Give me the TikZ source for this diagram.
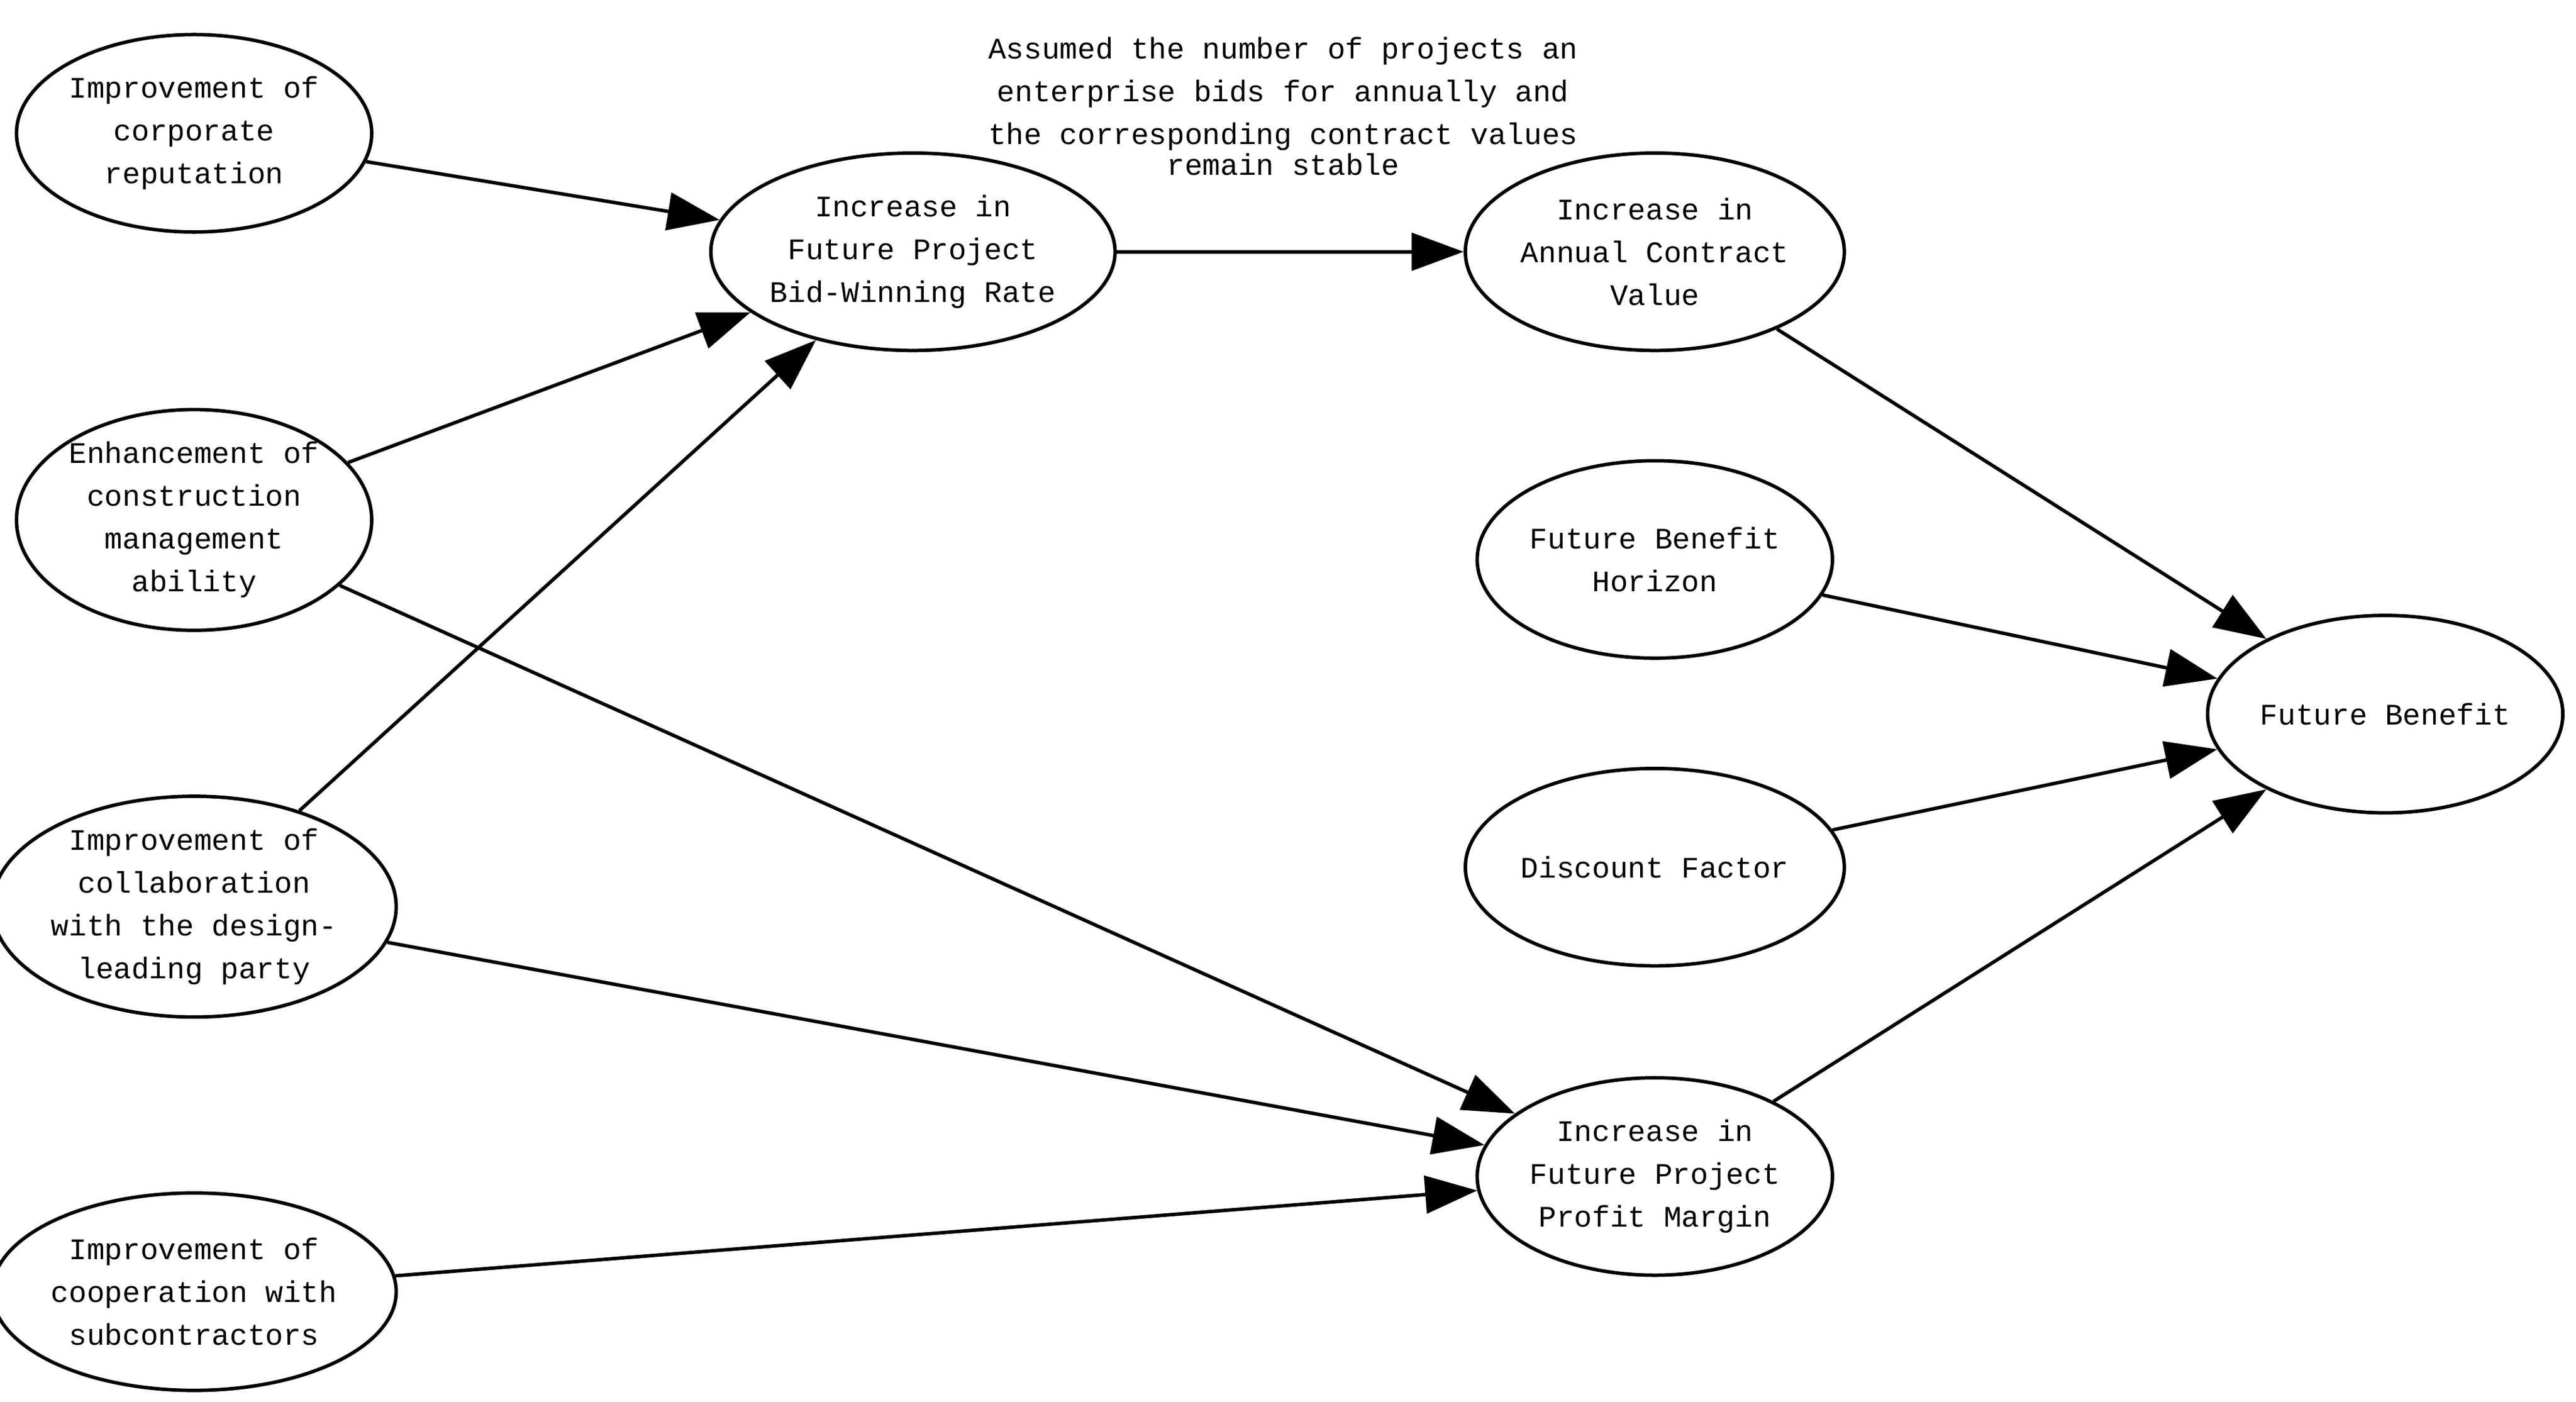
\documentclass[tikz,border=0pt]{standalone}
\usepackage{fontspec}
\setmainfont{Liberation Mono}
\usetikzlibrary{shapes.geometric,arrows.meta}
\begin{document}
\begin{tikzpicture}[x=0.02cm,y=-0.02cm,
  el/.style={ellipse,draw,line width=1.2pt,minimum width=4.32cm,minimum height=2.4cm,inner sep=0pt,align=center,font=\fontsize{10.3}{14.8}\selectfont},
  ar/.style={line width=1.2pt,-{Triangle[length=18pt,width=13pt]}}]
\useasboundingbox (0,0) rectangle (1566,852);
\node[el] (A) at (118,81) {Improvement of\\corporate\\reputation};
\node[el] (B) at (118,316) {Enhancement of\\construction\\management\\ability};
\node[el] (C) at (118,551) {Improvement of\\collaboration\\with the design-\\leading party};
\node[el] (D) at (118,785) {Improvement of\\cooperation with\\subcontractors};
\node[el,minimum width=4.4cm] (E) at (555,153) {Increase in\\Future Project\\Bid-Winning Rate};
\node[el] (F) at (1006,153) {Increase in\\Annual Contract\\Value};
\node[el] (G) at (1006,340) {Future Benefit\\Horizon};
\node[el] (H) at (1006,527) {Discount Factor};
\node[el] (I) at (1006,715) {Increase in\\Future Project\\Profit Margin};
\node[el] (J) at (1450,434) {Future Benefit};
\node[align=center,font=\fontsize{10.3}{14.8}\selectfont] (T) at (780,57) {Assumed the number of projects an\\enterprise bids for annually and\\the corresponding contract values};
\node[font=\fontsize{10.3}{14.8}\selectfont] (T2) at (780,100) {remain stable};
\draw[ar] (A) -- (E);
\draw[ar] (B) -- (E);
\draw[ar] (C) -- (E);
\draw[ar] (B) -- (I);
\draw[ar] (C) -- (I);
\draw[ar] (D) -- (I);
\draw[ar] (E) -- (F);
\draw[ar] (F) -- (J);
\draw[ar] (G) -- (J);
\draw[ar] (H) -- (J);
\draw[ar] (I) -- (J);
\end{tikzpicture}
\end{document}
